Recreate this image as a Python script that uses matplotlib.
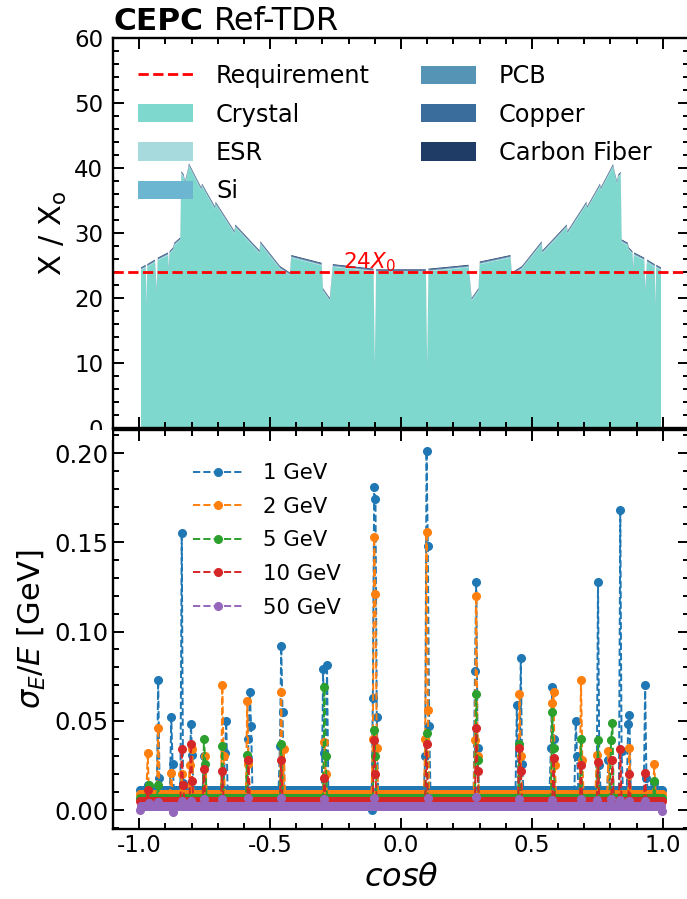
import matplotlib
matplotlib.use("Agg")
import matplotlib.pyplot as plt
import numpy as np
from matplotlib.patches import Rectangle
from matplotlib.ticker import MultipleLocator, FormatStrFormatter

plt.rcParams['font.family'] = ['DejaVu Sans']
plt.rcParams['mathtext.fontset'] = 'dejavusans'
plt.rcParams['axes.unicode_minus'] = False

# ---- top panel: material budget (X/X0) vs cos(theta) ----
cos_top = [-0.993, -0.975, -0.972, -0.969, -0.940, -0.933, -0.929, -0.890, -0.887, -0.884,
           -0.870, -0.866, -0.843, -0.839, -0.830, -0.825, -0.816, -0.810, -0.763, -0.760,
           -0.711, -0.708, -0.636, -0.633, -0.540, -0.537, -0.462, -0.424, -0.419, -0.303,
           -0.298, -0.272, -0.260, -0.105, -0.100, -0.095,
           0.095, 0.100, 0.105, 0.258, 0.270, 0.296, 0.301, 0.418, 0.423, 0.462, 0.537,
           0.540, 0.633, 0.636, 0.708, 0.711, 0.760, 0.763, 0.810, 0.816, 0.825, 0.830,
           0.839, 0.843, 0.866, 0.870, 0.884, 0.887, 0.890, 0.929, 0.933, 0.940, 0.969,
           0.972, 0.975, 0.993]
crystal = [24.3, 24.7, 18.6, 24.8, 25.5, 21.0, 25.8, 26.6, 24.2, 26.8,
           27.4, 28.1, 28.9, 39.1, 38.6, 37.6, 39.0, 40.3, 36.6, 37.2,
           33.7, 34.4, 29.9, 30.9, 26.9, 28.3, 24.5, 23.5, 26.2, 25.0,
           21.1, 19.6, 24.8, 24.1, 9.3, 24.0,
           24.0, 9.3, 24.1, 24.7, 19.6, 21.1, 25.2, 26.2, 23.5, 24.5, 28.3,
           26.9, 30.9, 29.9, 34.4, 33.7, 37.2, 36.6, 40.2, 39.0, 37.6, 38.6,
           39.0, 28.6, 28.1, 27.4, 26.8, 24.2, 26.6, 25.8, 21.0, 25.5, 24.8,
           18.6, 24.7, 24.3]
esr = [0.08] * len(cos_top)
si = [0.03] * len(cos_top)
pcb = [0.06] * len(cos_top)
copper = [0.12] * len(cos_top)
carbon_fiber = [0.12] * len(cos_top)
requirement = 24

layer_names = ['Crystal', 'ESR', 'Si', 'PCB', 'Copper', 'Carbon Fiber']
layer_colors = ['#7fd8cd', '#a7dadd', '#6db6d1', '#5594b4', '#3a6c9c', '#1e3c66']

# ---- bottom panel: energy resolution vs cos(theta) ----
energies = ['1 GeV', '2 GeV', '5 GeV', '10 GeV', '50 GeV']
series_colors = ['#1f77b4', '#ff7f0e', '#2ca02c', '#d62728', '#9467bd']
baseline = [0.0115, 0.0090, 0.0070, 0.0050, 0.0022]

peaks_1gev = [(-0.967, 0.014), (-0.927, 0.073), (-0.922, 0.018), (-0.878, 0.052), (-0.873, 0.026),
              (-0.840, 0.155), (-0.835, 0.015), (-0.802, 0.048), (-0.797, 0.031), (-0.751, 0.030),
              (-0.670, 0.032), (-0.665, 0.050), (-0.581, 0.040), (-0.576, 0.066), (-0.571, 0.047),
              (-0.460, 0.036), (-0.455, 0.092), (-0.450, 0.055), (-0.297, 0.079), (-0.290, 0.032),
              (-0.282, 0.081), (-0.112, 0.000), (-0.107, 0.063), (-0.102, 0.181), (-0.097, 0.174),
              (-0.092, 0.052), (0.093, 0.030), (0.098, 0.201), (0.103, 0.148), (0.108, 0.047),
              (0.285, 0.078), (0.290, 0.128), (0.295, 0.035), (0.441, 0.059), (0.460, 0.085),
              (0.465, 0.026), (0.574, 0.035), (0.579, 0.069), (0.584, 0.040), (0.668, 0.050),
              (0.673, 0.030), (0.752, 0.128), (0.757, 0.025), (0.790, 0.028), (0.840, 0.168),
              (0.845, 0.033), (0.869, 0.048), (0.874, 0.053), (0.931, 0.070), (0.936, 0.018),
              (0.970, 0.015)]
peaks_2gev = [(-0.967, 0.032), (-0.927, 0.046), (-0.878, 0.021), (-0.840, 0.020), (-0.806, 0.025),
              (-0.798, 0.034), (-0.746, 0.030), (-0.681, 0.070), (-0.676, 0.030), (-0.589, 0.061),
              (-0.584, 0.026), (-0.455, 0.066), (-0.447, 0.034), (-0.292, 0.038), (-0.287, 0.020),
              (-0.107, 0.040), (-0.102, 0.153), (-0.097, 0.121), (-0.092, 0.035), (0.093, 0.040),
              (0.098, 0.156), (0.103, 0.056), (0.285, 0.039), (0.290, 0.120), (0.295, 0.030),
              (0.455, 0.065), (0.460, 0.030), (0.579, 0.060), (0.584, 0.066), (0.589, 0.025),
              (0.686, 0.073), (0.691, 0.028), (0.748, 0.031), (0.790, 0.033), (0.874, 0.035),
              (0.969, 0.026)]
peaks_5gev = [(-0.962, 0.014), (-0.925, 0.014), (-0.751, 0.040), (-0.746, 0.026), (-0.681, 0.036),
              (-0.589, 0.031), (-0.455, 0.037), (-0.290, 0.069), (-0.285, 0.030), (-0.102, 0.045),
              (-0.097, 0.030), (0.098, 0.043), (0.290, 0.065), (0.295, 0.028), (0.455, 0.037),
              (0.579, 0.055), (0.584, 0.035), (0.686, 0.040), (0.752, 0.039), (0.800, 0.039),
              (0.805, 0.049), (0.969, 0.016)]
peaks_10gev = [(-0.967, 0.011), (-0.840, 0.034), (-0.835, 0.014), (-0.802, 0.037), (-0.797, 0.016),
               (-0.751, 0.023), (-0.681, 0.022), (-0.584, 0.028), (-0.455, 0.028), (-0.290, 0.018),
               (-0.102, 0.039), (-0.097, 0.020), (0.098, 0.037), (0.290, 0.046), (0.295, 0.022),
               (0.455, 0.035), (0.460, 0.022), (0.584, 0.029), (0.686, 0.025), (0.752, 0.027),
               (0.805, 0.028), (0.840, 0.034), (0.874, 0.020), (0.931, 0.021)]
peaks_50gev = [(-0.9975, 0.000), (-0.965, 0.004), (-0.927, 0.0045), (-0.872, -0.001), (-0.840, 0.005),
               (-0.800, 0.005), (-0.750, 0.006), (-0.680, 0.006), (-0.585, 0.007), (-0.455, 0.0065),
               (-0.290, 0.006), (-0.100, 0.007), (0.100, 0.007), (0.290, 0.0075), (0.455, 0.006),
               (0.580, 0.0055), (0.685, 0.006), (0.750, 0.0055), (0.800, 0.006), (0.840, 0.0055),
               (0.875, 0.005), (0.930, 0.005), (0.9975, -0.0005)]
peaks = [peaks_1gev, peaks_2gev, peaks_5gev, peaks_10gev, peaks_50gev]

# cos(theta) bin centres of the scan
cos_bins = np.round(np.arange(-0.9975, 0.9980, 0.005), 4)


def build_series(base, peak_list):
    y = np.full(cos_bins.size, base)
    for c, v in peak_list:
        y[np.abs(cos_bins - c).argmin()] = v
    return y


def style_axes(ax):
    ax.tick_params(which='both', direction='in', top=True, right=True, labelsize=16.5, width=1.4)
    ax.tick_params(which='major', length=8)
    ax.tick_params(which='minor', length=4)
    for s in ax.spines.values():
        s.set_linewidth(1.7)


def main():
    fig = plt.figure(figsize=(6.87, 8.99), dpi=100)
    ax = fig.add_axes([0.1645, 0.5239, 0.8384, 0.4338])
    ax2 = fig.add_axes([0.1645, 0.0779, 0.8384, 0.4438])

    # Top: stacked material budget
    ax.stackplot(cos_top, crystal, esr, si, pcb, copper, carbon_fiber,
                 colors=layer_colors, labels=layer_names)
    ax.axhline(requirement, color='red', linestyle='--', linewidth=2, label='Requirement')
    ax.text(-0.222, 24.5, r'$24X_0$', color='red', fontsize=15.5)

    handles, labels = ax.get_legend_handles_labels()
    order = [6, 0, 1, 2, 3, 4, 5]
    ax.legend([handles[i] for i in order], [labels[i] for i in order], ncol=2, frameon=False,
              loc='upper left', bbox_to_anchor=(0.043, 0.933), borderaxespad=0, borderpad=0,
              fontsize=17.3, handlelength=2.29, handleheight=0.8, handletextpad=0.97,
              labelspacing=0.6, columnspacing=2.1)

    ax.set_xlim(-1.1, 1.1)
    ax.set_ylim(0, 60)
    ax.set_ylabel('X / X$_\\mathrm{o}$', fontsize=22)
    ax.xaxis.set_major_locator(MultipleLocator(0.5))
    ax.xaxis.set_minor_locator(MultipleLocator(0.1))
    ax.yaxis.set_major_locator(MultipleLocator(10))
    ax.yaxis.set_minor_locator(MultipleLocator(2))
    ax.tick_params(labelbottom=False)
    style_axes(ax)
    ax.tick_params(axis='y', which='major', pad=7)

    fig.text(0.1645, 0.9666, 'CEPC', fontsize=22.5, fontweight='bold', va='baseline')
    fig.text(0.312, 0.9666, 'Ref-TDR', fontsize=23, va='baseline')

    # Bottom: energy resolution
    for label, color, base, pk in zip(energies, series_colors, baseline, peaks):
        ax2.plot(cos_bins, build_series(base, pk), linestyle='--', marker='o', color=color,
                 markersize=5.5, linewidth=1.4, label=label)

    ax2.legend(frameon=False, loc='upper left', bbox_to_anchor=(0.139, 0.917), borderaxespad=0,
               borderpad=0, fontsize=15.3, handlelength=2.35, handletextpad=0.94, labelspacing=0.64)
    ax2.set_xlim(-1.1, 1.1)
    ax2.set_ylim(-0.0106, 0.2129)
    ax2.xaxis.set_major_locator(MultipleLocator(0.5))
    ax2.xaxis.set_minor_locator(MultipleLocator(0.1))
    ax2.yaxis.set_major_locator(MultipleLocator(0.05))
    ax2.yaxis.set_minor_locator(MultipleLocator(0.01))
    ax2.yaxis.set_major_formatter(FormatStrFormatter('%.2f'))
    ax2.set_xlabel(r'$cos\theta$', fontsize=23)
    ax2.set_ylabel(r'$\sigma_E/E$ [GeV]', fontsize=22)
    style_axes(ax2)
    ax2.tick_params(axis='y', labelsize=17.5)

    # the lower half of the top panel's "0" label is hidden in the original
    fig.add_artist(Rectangle((0, 459 / 899), 112 / 687, 10 / 899, transform=fig.transFigure,
                             facecolor='white', edgecolor='none', zorder=5))

    fig.savefig('out.png', dpi=100)


main()
